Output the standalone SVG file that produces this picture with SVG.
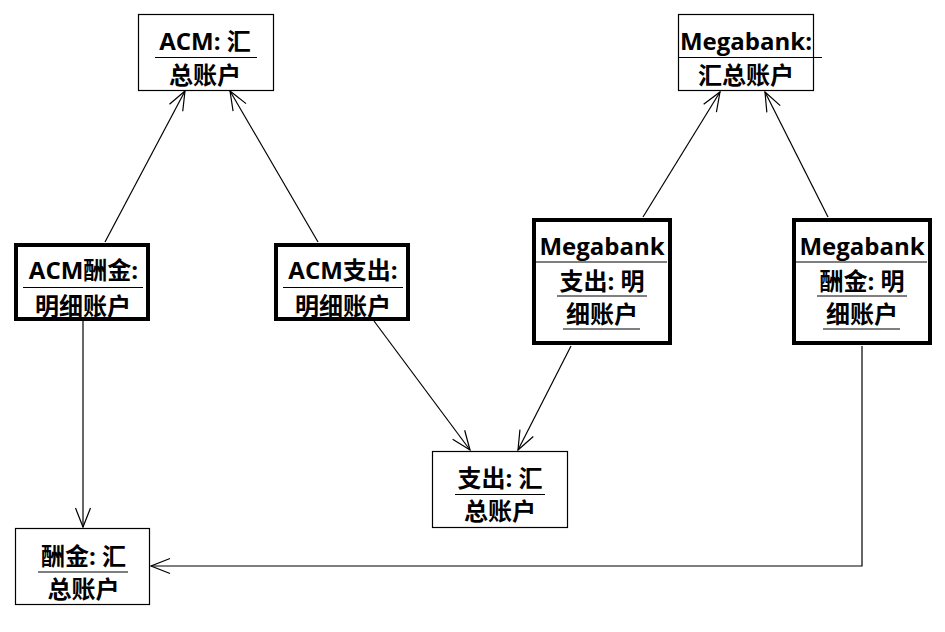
<svg xmlns="http://www.w3.org/2000/svg" width="945" height="632" viewBox="0 0 945 632">
<style>
.bg{fill:#fff}
.box{fill:#fff;stroke:#000;stroke-width:1.2}
.thick{fill:#fff;stroke:#000;stroke-width:4}
.t{font-family:"Open Sans","Noto Sans CJK SC",sans-serif;font-weight:bold;font-size:24px;fill:#000;text-anchor:middle}
.u{stroke:#000;stroke-width:1.2;fill:none}
.c{stroke:#000;stroke-width:1.2;fill:none;marker-end:url(#arr)}
</style>
<defs>
<marker id="arr" markerUnits="userSpaceOnUse" markerWidth="40" markerHeight="40" orient="auto" refX="0" refY="0" overflow="visible">
<path d="M-19,-7.5 L0,0 L-19,7.5" fill="none" stroke="#000" stroke-width="1.2"/>
</marker>
</defs>
<rect class="bg" x="0" y="0" width="945" height="632"/>
<g id="connectors">
<line class="c" x1="105" y1="242" x2="185" y2="91"/>
<line class="c" x1="318" y1="242" x2="230" y2="91"/>
<line class="c" x1="643" y1="217" x2="720" y2="92"/>
<line class="c" x1="828" y1="217" x2="765" y2="92"/>
<line class="c" x1="83" y1="321" x2="83" y2="527"/>
<line class="c" x1="374" y1="321" x2="470" y2="450"/>
<line class="c" x1="571" y1="346" x2="518" y2="450"/>
<polyline class="c" points="862,346 862,566 151,566"/>
</g>
<g id="acm-summary">
<rect class="box" x="138.5" y="14.5" width="135" height="76"/>
<text class="t" x="205" y="50">ACM: 汇</text>
<line class="u" x1="155" y1="57.5" x2="257" y2="57.5"/>
<text class="t" x="205" y="84">总账户</text>
</g>
<g id="megabank-summary">
<rect class="box" x="678.5" y="14.5" width="135" height="76"/>
<text class="t" x="746" y="50">Megabank:</text>
<line class="u" x1="679" y1="57.5" x2="822" y2="57.5"/>
<text class="t" x="746" y="84">汇总账户</text>
</g>
<g id="acm-fee-detail">
<rect class="thick" x="16" y="245" width="132" height="74"/>
<text class="t" x="83.5" y="279">ACM酬金:</text>
<line class="u" x1="23" y1="287.5" x2="143" y2="287.5"/>
<text class="t" x="83" y="315">明细账户</text>
</g>
<g id="acm-expense-detail">
<rect class="thick" x="276" y="245" width="132" height="74"/>
<text class="t" x="343" y="279">ACM支出:</text>
<line class="u" x1="283" y1="287.5" x2="403" y2="287.5"/>
<text class="t" x="343" y="315">明细账户</text>
</g>
<g id="megabank-expense-detail">
<rect class="thick" x="534" y="220" width="136" height="123"/>
<text class="t" x="602" y="255">Megabank</text>
<line class="u" x1="535" y1="262" x2="667" y2="262"/>
<text class="t" x="602" y="290">支出: 明</text>
<line class="u" x1="557" y1="296" x2="647" y2="296"/>
<text class="t" x="602" y="323">细账户</text>
<line class="u" x1="563" y1="329" x2="640" y2="329"/>
</g>
<g id="megabank-fee-detail">
<rect class="thick" x="794" y="220" width="136" height="123"/>
<text class="t" x="862" y="255">Megabank</text>
<line class="u" x1="795" y1="262" x2="927" y2="262"/>
<text class="t" x="862" y="290">酬金: 明</text>
<line class="u" x1="817" y1="296" x2="907" y2="296"/>
<text class="t" x="862" y="323">细账户</text>
<line class="u" x1="823" y1="329" x2="900" y2="329"/>
</g>
<g id="expense-summary">
<rect class="box" x="432.5" y="451.5" width="135" height="76"/>
<text class="t" x="500" y="487">支出: 汇</text>
<line class="u" x1="455" y1="494.5" x2="545" y2="494.5"/>
<text class="t" x="500" y="520">总账户</text>
</g>
<g id="fee-summary">
<rect class="box" x="15.5" y="528.5" width="134" height="76"/>
<text class="t" x="83.5" y="565">酬金: 汇</text>
<line class="u" x1="38" y1="572" x2="128" y2="572"/>
<text class="t" x="83.5" y="598">总账户</text>
</g>
</svg>
